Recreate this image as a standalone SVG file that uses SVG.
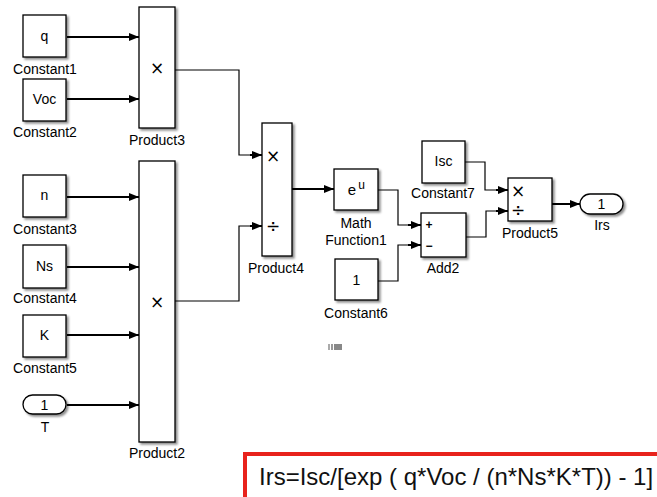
<svg xmlns="http://www.w3.org/2000/svg" width="657" height="497" viewBox="0 0 657 497">
<defs>
<filter id="sh" x="-20%" y="-20%" width="150%" height="150%">
<feDropShadow dx="2" dy="2" stdDeviation="1.2" flood-color="#000" flood-opacity="0.45"/>
</filter>
<marker id="ar" markerWidth="10" markerHeight="8" refX="10" refY="4" orient="auto" markerUnits="userSpaceOnUse">
<path d="M0,0 L10,4 L0,8 Z" fill="#000"/>
</marker>
<style>
.blk{fill:#fff;stroke:#000;stroke-width:1.3;filter:url(#sh)}
.t{font-family:"Liberation Sans",Arial,sans-serif;font-size:14px;fill:#000;text-anchor:middle}
.in{font-family:"Liberation Sans",Arial,sans-serif;font-size:14px;fill:#000;text-anchor:middle}
.sym{font-family:"DejaVu Sans",sans-serif;font-size:17px;fill:#000;text-anchor:middle}
.ln{fill:none;stroke:#000;stroke-width:1.2}
.la{fill:none;stroke:#000;stroke-width:2;marker-end:url(#ar)}
</style>
</defs>
<rect width="657" height="497" fill="#fff"/>

<g id="connectors">
<path class="la" d="M67,37 H139"/>
<path class="la" d="M67,99 H139"/>
<path class="la" d="M67,197 H139"/>
<path class="la" d="M67,267 H139"/>
<path class="la" d="M67,335 H139"/>
<path class="la" d="M67,405 H139"/>
<path class="ln" d="M175,70 H239 V155 H252"/><path class="la" d="M250,155 H262"/>
<path class="ln" d="M175,301 H239 V226 H252"/><path class="la" d="M250,226 H262"/>
<path class="la" d="M292,189 H334"/>
<path class="ln" d="M378,190 H398 V225 H410"/><path class="la" d="M408,225 H421"/>
<path class="ln" d="M378,281 H398 V245 H410"/><path class="la" d="M408,245 H421"/>
<path class="ln" d="M465,162 H485 V190 H498"/><path class="la" d="M496,190 H508"/>
<path class="ln" d="M466,237 H486 V211 H498"/><path class="la" d="M496,211 H508"/>
<path class="la" d="M552,204 H580"/>
</g>

<g id="Constant1"><rect class="blk" x="23" y="15" width="43" height="42"/><text class="in" x="44.5" y="41">q</text><text class="t" x="45" y="74">Constant1</text></g>
<g id="Constant2"><rect class="blk" x="23" y="79" width="43" height="42"/><text class="in" x="44.5" y="104">Voc</text><text class="t" x="45" y="137">Constant2</text></g>
<g id="Product3"><rect class="blk" x="139" y="7" width="36" height="121"/><text class="sym" x="157" y="74">×</text><text class="t" x="157" y="145">Product3</text></g>

<g id="Constant3"><rect class="blk" x="23" y="175" width="43" height="42"/><text class="in" x="44.5" y="200">n</text><text class="t" x="45" y="234">Constant3</text></g>
<g id="Constant4"><rect class="blk" x="23" y="245" width="43" height="43"/><text class="in" x="44.5" y="271">Ns</text><text class="t" x="45" y="303">Constant4</text></g>
<g id="Constant5"><rect class="blk" x="23" y="315" width="43" height="42"/><text class="in" x="44.5" y="340">K</text><text class="t" x="45" y="373">Constant5</text></g>
<g id="T"><rect class="blk" x="23" y="395" width="43" height="19" rx="9.5"/><text class="in" x="44.5" y="410">1</text><text class="t" x="45" y="432">T</text></g>
<g id="Product2"><rect class="blk" x="139" y="161" width="36" height="281"/><text class="sym" x="157" y="308">×</text><text class="t" x="157" y="458">Product2</text></g>

<g id="Product4"><rect class="blk" x="262" y="123" width="30" height="133"/><text class="sym" x="273" y="162">×</text><text class="sym" x="273" y="232">÷</text><text class="t" x="276" y="273">Product4</text></g>

<g id="MathFunction1"><rect class="blk" x="334" y="169" width="44" height="41"/><text class="in" x="352" y="195" style="font-size:15px">e</text><text class="in" x="361.5" y="189" style="font-size:12px">u</text><text class="t" x="356" y="228">Math</text><text class="t" x="356" y="245">Function1</text></g>

<g id="Constant6"><rect class="blk" x="335" y="259" width="43" height="41"/><text class="in" x="356.5" y="285">1</text><text class="t" x="356" y="318">Constant6</text></g>

<g id="Add2"><rect class="blk" x="421" y="213" width="45" height="44"/><text class="in" x="429" y="229" style="font-size:12px;font-weight:bold">+</text><text class="in" x="429" y="250" style="font-size:12px;font-weight:bold">−</text><text class="t" x="443" y="273">Add2</text></g>

<g id="Constant7"><rect class="blk" x="422" y="141" width="43" height="42"/><text class="in" x="443.5" y="166">Isc</text><text class="t" x="443" y="198">Constant7</text></g>

<g id="Product5"><rect class="blk" x="508" y="178" width="44" height="43"/><text class="sym" x="518" y="197">×</text><text class="sym" x="518" y="216">÷</text><text class="t" x="530" y="238">Product5</text></g>

<g id="Irs"><rect class="blk" x="580" y="194" width="43" height="20" rx="10"/><text class="in" x="601.5" y="209">1</text><text class="t" x="602" y="230">Irs</text></g>

<g id="marker-artifact">
<rect x="328" y="344" width="2" height="6" fill="#aaa"/>
<rect x="331" y="344" width="2" height="6" fill="#999"/>
<rect x="334" y="344" width="8" height="6" fill="#888"/>
</g>

<g id="formula">
<rect x="245" y="454" width="420" height="60" fill="#fff" stroke="#e8221c" stroke-width="4"/>
<text x="259" y="485" style="font-family:'Liberation Sans',Arial,sans-serif;font-size:24px;fill:#111">Irs=Isc/[exp ( q*Voc / (n*Ns*K*T)) - 1]</text>
</g>
</svg>
